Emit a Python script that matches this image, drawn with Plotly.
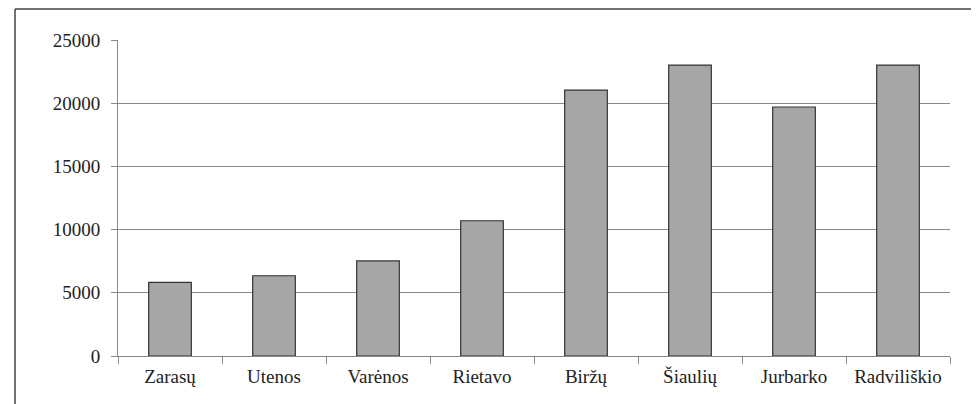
import plotly.graph_objects as go

categories = ["Zarasų", "Utenos", "Varėnos", "Rietavo", "Biržų", "Šiaulių", "Jurbarko", "Radviliškio"]
values = [5830, 6350, 7520, 10700, 21040, 23020, 19700, 23020]
y_ticks = [0, 5000, 10000, 15000, 20000, 25000]

# page body has an 8px margin, so the figure is offset by 8px
OFF = 8
W, H = 979 - OFF, 404 - OFF
L, T = 118 - OFF, 40 - OFF
R = W - (950 - OFF)
B = H - (356 - OFF)
pw, ph = W - L - R, H - T - B

fig = go.Figure(go.Bar(
    x=categories, y=values,
    marker=dict(color="#a6a6a6", line=dict(color="#333333", width=1.2)),
    width=0.41,
))

font = dict(family="Liberation Serif", size=19, color="#222222")

fig.update_layout(
    width=W, height=H,
    margin=dict(l=L, r=R, t=T, b=B),
    paper_bgcolor="white", plot_bgcolor="white",
    font=font, showlegend=False,
    xaxis=dict(
        type="category", tickson="boundaries", ticks="outside", ticklen=7,
        tickcolor="#888888", showline=True, linecolor="#888888", linewidth=1,
        showgrid=False, tickfont=font, range=[-0.5, 7.5], ticklabelstandoff=3,
    ),
    yaxis=dict(
        range=[0, 25000], tickvals=y_ticks, ticktext=[str(v) for v in y_ticks],
        ticks="outside", ticklen=6, tickcolor="#888888",
        showline=True, linecolor="#888888", linewidth=1,
        showgrid=True, gridcolor="#8a8a8a", gridwidth=1, zeroline=False,
        tickfont=font, ticklabelstandoff=7,
    ),
)

# outer frame (top and left edges)
fx0 = (15 - 118) / pw
fx1 = (979 - 118) / pw
fy_top = (356 - 9) / ph
fy_bot = (356 - 404) / ph
fig.add_shape(type="line", xref="paper", yref="paper", x0=fx0, x1=fx1, y0=fy_top, y1=fy_top,
              line=dict(color="#444444", width=1.5))
fig.add_shape(type="line", xref="paper", yref="paper", x0=fx0, x1=fx0, y0=fy_top, y1=fy_bot,
              line=dict(color="#444444", width=1.5))

fig.write_html("out.html")
